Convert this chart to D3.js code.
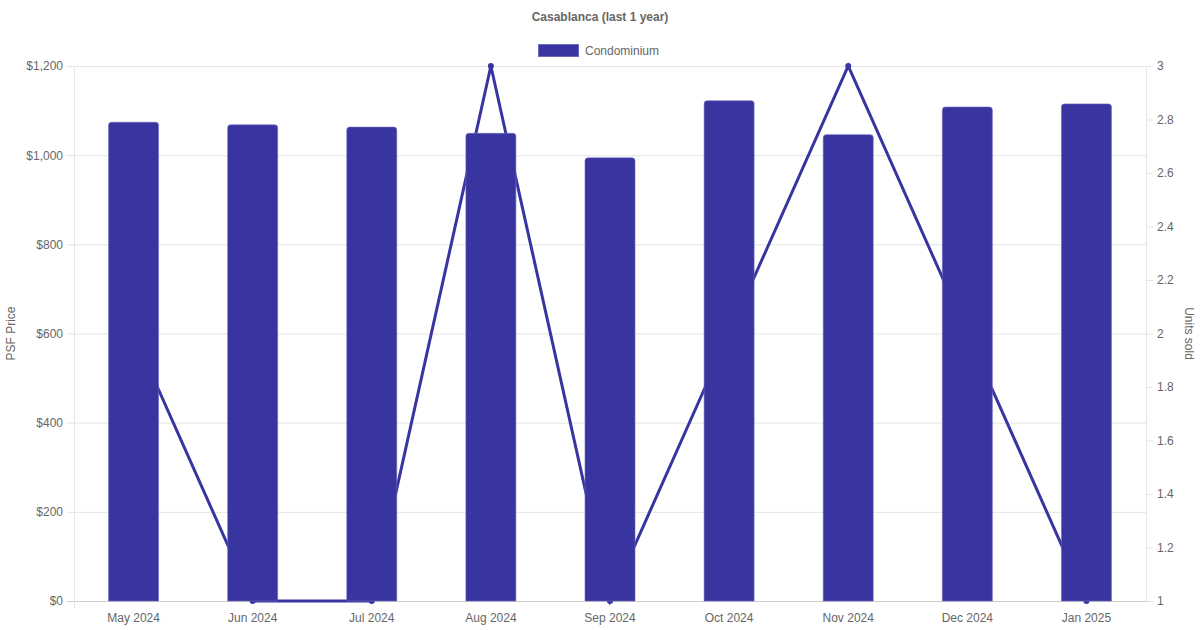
<!DOCTYPE html>
<html>
<head>
<meta charset="utf-8">
<script src="https://cdn.jsdelivr.net/npm/d3@7"></script>
<style>
  body { margin: 0; background: #fff; }
  text { font-family: "Liberation Sans", Arial, Helvetica, sans-serif; }
</style>
</head>
<body>
<div id="main"></div>
<script>
const ctx = {
    w: 1200,
    h: 630,
    left: 74,
    right: 1146,
    top: 66,
    bottom: 601,
    color: "#3935a0",
    textColor: "#666"
};

const months = ["May 2024", "Jun 2024", "Jul 2024", "Aug 2024", "Sep 2024",
                "Oct 2024", "Nov 2024", "Dec 2024", "Jan 2025"];
const psfPrice = [1074, 1068, 1063, 1049, 994, 1122, 1046, 1108, 1115];
const unitsSold = [2, 1, 1, 3, 1, 2, 3, 2, 1];
const priceTicks = [0, 200, 400, 600, 800, 1000, 1200];
const unitTicks = [1, 1.2, 1.4, 1.6, 1.8, 2, 2.2, 2.4, 2.6, 2.8, 3];

const svg = d3.select("#main").append("svg")
    .attr("width", ctx.w)
    .attr("height", ctx.h);

const x = d3.scaleBand()
    .domain(months)
    .range([ctx.left, ctx.right]);
const yPrice = d3.scaleLinear()
    .domain([0, 1200])
    .range([ctx.bottom, ctx.top]);
const yUnits = d3.scaleLinear()
    .domain([1, 3])
    .range([ctx.bottom, ctx.top]);

// gridlines from the price axis
svg.append("g")
   .selectAll("line")
   .data(priceTicks)
   .enter()
   .append("line")
   .attr("x1", ctx.left - 7)
   .attr("x2", ctx.right)
   .attr("y1", d => yPrice(d) + 0.5)
   .attr("y2", d => yPrice(d) + 0.5)
   .attr("stroke", d => d == 0 ? "#ccc" : "#e5e5e5");

// vertical axis lines
[ctx.left, ctx.right].forEach(px => {
    svg.append("line")
       .attr("x1", px + 0.5).attr("x2", px + 0.5)
       .attr("y1", ctx.top).attr("y2", ctx.bottom + (px == ctx.left ? 7 : 0))
       .attr("stroke", "#e5e5e5");
});

// left axis
const leftAxis = svg.append("g")
    .attr("transform", `translate(${ctx.left},0)`)
    .call(d3.axisLeft(yPrice).tickValues(priceTicks).tickSize(0).tickPadding(11)
            .tickFormat(d => "$" + d3.format(",")(d)));
// bottom axis
const bottomAxis = svg.append("g")
    .attr("transform", `translate(0,${ctx.bottom})`)
    .call(d3.axisBottom(x).tickSize(0).tickPadding(12));
// right axis
const rightAxis = svg.append("g")
    .attr("transform", `translate(${ctx.right},0)`)
    .call(d3.axisRight(yUnits).tickValues(unitTicks).tickSize(7).tickPadding(4)
            .tickFormat(d => d3.format("~g")(d)));

[leftAxis, bottomAxis, rightAxis].forEach(a => {
    a.select(".domain").remove();
    a.selectAll("text")
     .attr("fill", ctx.textColor)
     .style("font-size", "12px");
    a.selectAll("line").attr("stroke", "#e5e5e5");
});

// units sold line, behind the bars
const line = d3.line()
    .x((d, i) => x(months[i]) + x.bandwidth() / 2)
    .y(d => yUnits(d));

svg.append("path")
   .datum(unitsSold)
   .attr("d", line)
   .attr("fill", "none")
   .attr("stroke", ctx.color)
   .attr("stroke-width", 3);

svg.append("g")
   .selectAll("circle")
   .data(unitsSold)
   .enter()
   .append("circle")
   .attr("cx", (d, i) => x(months[i]) + x.bandwidth() / 2)
   .attr("cy", d => yUnits(d))
   .attr("r", 3)
   .attr("fill", ctx.color);

// bars with rounded tops
const barW = 50;
const rad = 3;
function barPath(d, i) {
    let x0 = x(months[i]) + (x.bandwidth() - barW) / 2;
    let x1 = x0 + barW;
    let y0 = yPrice(d);
    let y1 = yPrice(0);
    return `M${x0},${y1} L${x0},${y0 + rad} Q${x0},${y0} ${x0 + rad},${y0}` +
           ` L${x1 - rad},${y0} Q${x1},${y0} ${x1},${y0 + rad} L${x1},${y1} Z`;
}
svg.append("g")
   .selectAll("path")
   .data(psfPrice)
   .enter()
   .append("path")
   .attr("d", barPath)
   .attr("fill", ctx.color)
   .attr("stroke", "#6b68bd")
   .attr("stroke-width", 0.6);

// title
svg.append("text")
   .attr("x", ctx.w / 2)
   .attr("y", 21)
   .attr("text-anchor", "middle")
   .attr("fill", ctx.textColor)
   .style("font-size", "12px")
   .style("font-weight", "bold")
   .text("Casablanca (last 1 year)");

// legend
svg.append("rect")
   .attr("x", 538.5).attr("y", 44.5)
   .attr("width", 40).attr("height", 12)
   .attr("fill", ctx.color)
   .attr("stroke", "#6b68bd")
   .attr("stroke-width", 1);
svg.append("text")
   .attr("x", 585)
   .attr("y", 54.5)
   .attr("fill", ctx.textColor)
   .style("font-size", "12px")
   .text("Condominium");

// axis titles
svg.append("text")
   .attr("transform", `translate(15,${(ctx.top + ctx.bottom) / 2}) rotate(-90)`)
   .attr("text-anchor", "middle")
   .attr("fill", ctx.textColor)
   .style("font-size", "12px")
   .text("PSF Price");
svg.append("text")
   .attr("transform", `translate(1185,${(ctx.top + ctx.bottom) / 2}) rotate(90)`)
   .attr("text-anchor", "middle")
   .attr("fill", ctx.textColor)
   .style("font-size", "12px")
   .text("Units sold");
</script>
</body>
</html>
